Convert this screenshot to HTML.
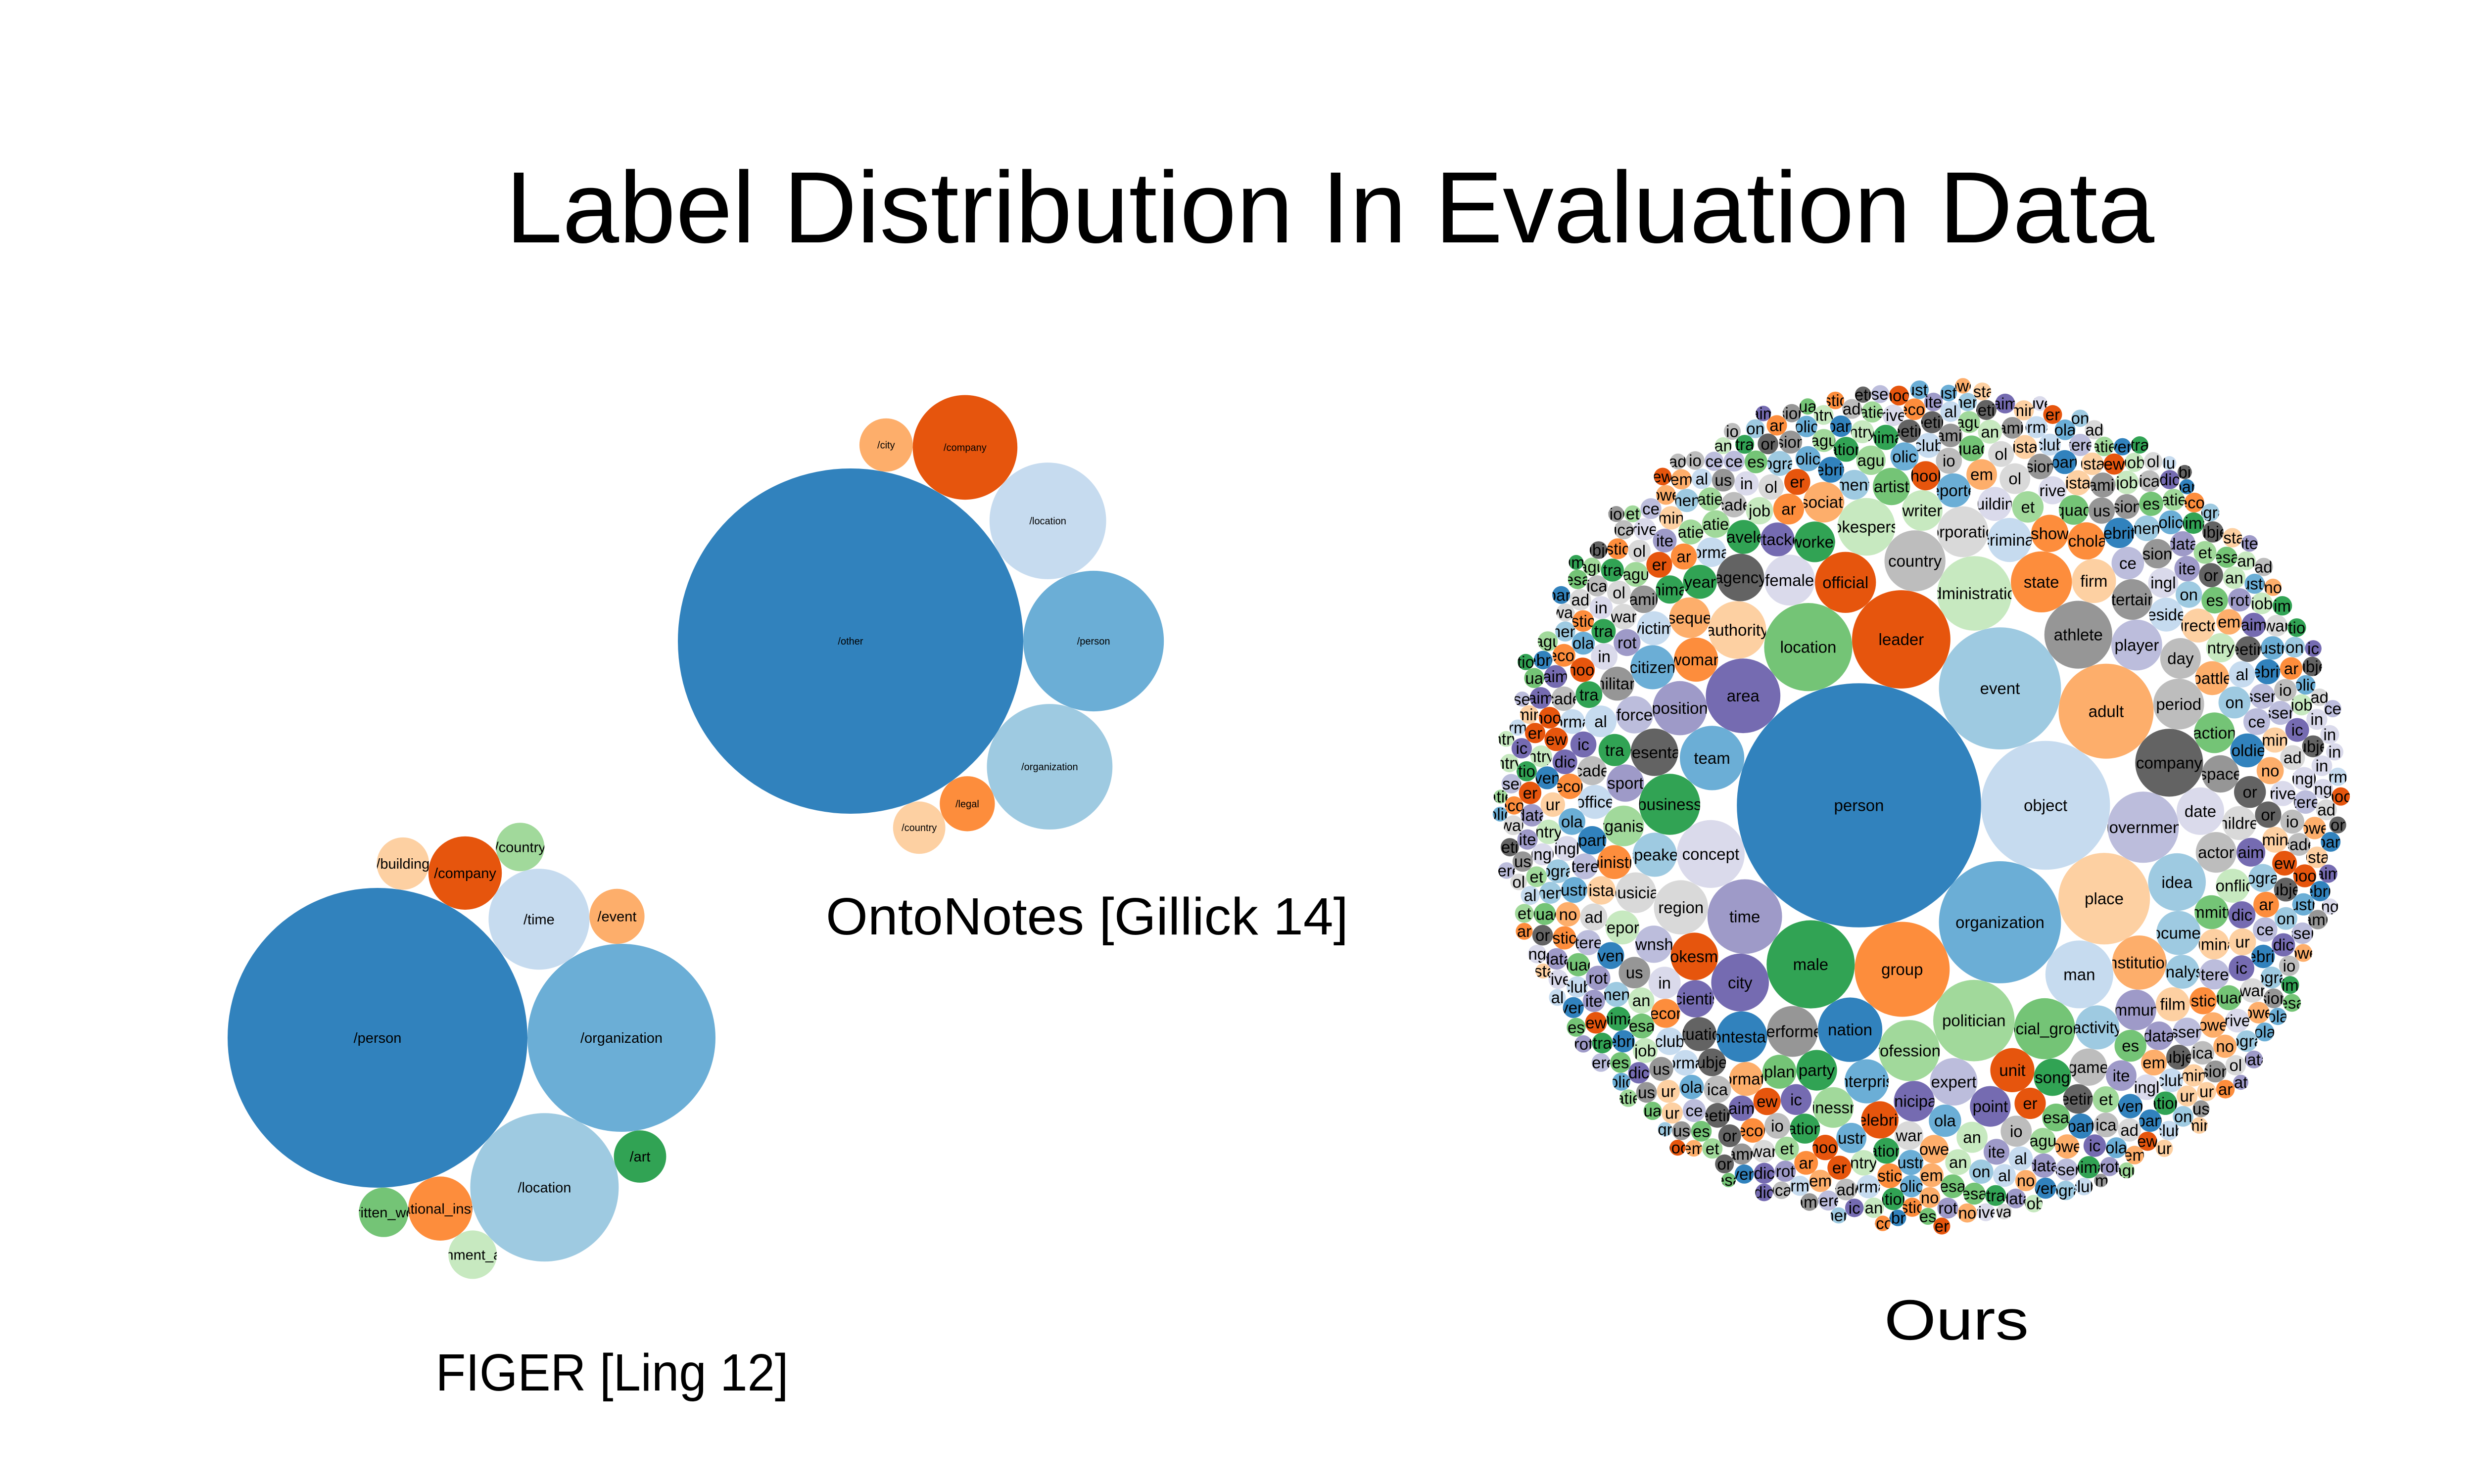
<!DOCTYPE html>
<html><head><meta charset="utf-8"><title>Label Distribution In Evaluation Data</title>
<style>
html,body{margin:0;padding:0;background:#fff;width:5334px;height:3000px;overflow:hidden;}
svg{display:block;overflow:hidden;}
text{font-family:"Liberation Sans",Arial,sans-serif;}
</style></head>
<body>
<svg id="chart" width="5334" height="3000" viewBox="0 0 5334 3000" xmlns="http://www.w3.org/2000/svg">
<rect width="5334" height="3000" fill="#fff"/>
<text x="2688" y="490" font-size="205" text-anchor="middle" textLength="3332" lengthAdjust="spacingAndGlyphs" fill="#000">Label Distribution In Evaluation Data</text>
<text x="2197" y="1889" font-size="106" text-anchor="middle" textLength="1056" lengthAdjust="spacingAndGlyphs" fill="#000">OntoNotes [Gillick 14]</text>
<text x="1237" y="2811" font-size="106" text-anchor="middle" textLength="713" lengthAdjust="spacingAndGlyphs" fill="#000">FIGER [Ling 12]</text>
<text x="3954" y="2708" font-size="115" text-anchor="middle" textLength="292" lengthAdjust="spacingAndGlyphs" fill="#000">Ours</text>
<defs id="clips"></defs>
<g id="figer"></g>
<g id="onto"></g>
<g id="ours"></g>
</svg>
<script>
// ---------- data ----------
const figerLabels = ["/person","/organization","/location","/time","/company","/educational_institution","/event","/building","/art","/written_work","/country","/government_agency"];
const figerValues = [918,361,225,104,55,42,31,28,28,25,24,24];

const ontoLabels = ["/other","/person","/organization","/location","/company","/legal","/city","/country"];
const ontoValues = [1218,202,161,139,112,31,29,28];

const oursLabels = ["person","object","organization","event","leader","group","adult","place","male","location",
"politician","administration","time","area","government","company","man","athlete","concept","team",
"nation","official","business","state","social_group","professional","country","city","authority","spokesperson",
"idea","position","region","institution","performer","player","female","period","contestant","corporation",
"agency","expert","date","representative","spokesman","woman","criminal","speaker","unit","enterprise",
"citizen","document","firm","activity","musician","actor","day","party","worker","community",
"entertainer","point","association","writer","action","consequence","businessman","municipality","organism","sport",
"artist","space","scientist","celebrity","show","force","song","township","scholar","game",
"attacker","plan","year","situation","committee","analyst","building","traveler","information","soldier",
"president","office","film","director","conflict","report","military","victim","battle","reporter",
"children","ministry"];
const oursMajorValues = [5184,1444,1296,1296,841,784,784,729,676,676,
576,484,484,484,441,400,400,400,400,361,
361,324,324,324,324,324,324,289,289,289,
289,256,256,256,225,225,225,225,225,225,
196,196,196,196,196,169,169,169,169,169,
169,169,169,169,144,144,144,144,144,144,
144,144,144,144,144,144,144,144,144,121,
121,121,121,121,121,121,121,121,121,121,
100,100,100,100,100,100,100,100,100,100,
100,100,100,100,100,100,100,100,100,100,
100,100];
const oursMidValues = [92,91,90,90,89,88,88,87,86,86,85,84,84,83,83,82,81,81,80,80,
79,79,78,78,77,77,76,76,75,75,74,74,73,73,72,72,71,71,70,70,
70,69,69,68,68,67,67,66,66,66,65,65,65,64,64,64,64,63,63,63,
62,62,62,61,61,61,60,60,60,60];
const oursSmallValues = [
59,59,59,59,59,58,58,58,58,58,58,58,58,57,57,57,57,57,57,57,
56,56,56,56,56,56,56,55,55,55,55,55,55,55,54,54,54,54,54,54,
53,53,53,53,53,53,52,52,52,52,52,52,51,51,51,51,51,51,50,50,
50,50,50,49,49,49,49,49,48,48,48,48,48,47,47,47,47,47,46,46,
46,46,45,45,45,45,44,44,44,44,43,43,43,43,42,42,42,42,41,41,
41,41,40,40,40,40,39,39,39,39,38,38,38,38,37,37,37,36,36,36,
58,58,57,57,57,56,56,56,55,55,55,55,54,54,54,54,53,53,53,53,
52,52,52,52,51,51,51,51,50,50,50,50,50,49,49,49,49,49,48,48,
48,48,48,47,47,47,47,47,46,46,46,46,46,46,45,45,45,45,45,45,
44,44,44,44,44,44,43,43,43,43,43,43,43,42,42,42,42,42,42,42,
41,41,41,41,41,41,41,40,40,40,40,40,40,40,40,39,39,39,39,39,
39,39,39,38,38,38,38,38,38,38,38,37,37,37,37,37,37,37,37,37,
36,36,36,36,36,36,36,36,36,35,35,35,35,35,35,35,35,35,35,34,
34,34,34,34,34,34,34,34,34,33,33,33,33,33,33,33,33,33,33,33,
32,32,32,32,32,32,32,32,32,32,32,31,31,31,31,31,31,31,31,31,
31,31,30,30,30,30,30,30,30,30,30,30,30,30,29,29,29,29,29,29,
29,29,29,29,29,28,28,28,28,28,28,28,28,28,28,28,27,27,27,27,
27,27,27,27,27,27,26,26,26,26,26,26,26,26,26,25,25,25,25,25,
25,25,25,25,24,24,24,24,24,24,24,24,23,23,23,23,23,23,22,22,
22,22,22,21,21,21,21,20,20,20,20,19,19,19,18,18,18,17,17,16];
const fragmentLabels = ["ebrit","rimina","nteres","ustr","ation","ingl","ment","quad","eetin","orma","agu","sion","hool","ntry","cade","ecor","aim","war","owe","data","part","ista","ssen","olic","nima","rive","ogra","esa","ubje","club","atie","amil","ew","job","ica","stic","dic","ad","no","rot","ven","ur","ce","ola","tra","in","on","es","or","al","et","us","er","an","io","ar","ic","ol","em","ite"];

// ---------- styles ----------
const C20 = ["#3182bd","#6baed6","#9ecae1","#c6dbef","#e6550d","#fd8d3c","#fdae6b","#fdd0a2","#31a354","#74c476","#a1d99b","#c7e9c0","#756bb1","#9e9ac8","#bcbddc","#dadaeb","#636363","#969696","#bdbdbd","#d9d9d9"];
const oursMajorColors = ["#3182bd","#c6dbef","#6baed6","#9ecae1","#e6550d","#fd8d3c","#fdae6b","#fdd0a2","#31a354","#74c476",
"#a1d99b","#c7e9c0","#9e9ac8","#756bb1","#bcbddc","#636363","#c6dbef","#969696","#dadaeb","#6baed6",
"#3182bd","#e6550d","#31a354","#fd8d3c","#74c476","#a1d99b","#bdbdbd","#756bb1","#fdd0a2","#c7e9c0",
"#9ecae1","#9e9ac8","#d9d9d9","#fdae6b","#969696","#bcbddc","#dadaeb","#bdbdbd","#3182bd","#d9d9d9",
"#636363","#bcbddc","#dadaeb","#636363","#e6550d","#fd8d3c","#c6dbef","#9ecae1","#e6550d","#6baed6",
"#6baed6","#9ecae1","#fdd0a2","#9ecae1","#d9d9d9","#bdbdbd","#bdbdbd","#31a354","#31a354","#9e9ac8",
"#969696","#756bb1","#fdae6b","#c7e9c0","#74c476","#fdae6b","#a1d99b","#756bb1","#a1d99b","#9e9ac8",
"#74c476","#969696","#756bb1","#e6550d","#fd8d3c","#bcbddc","#31a354","#bcbddc","#fd8d3c","#bdbdbd",
"#756bb1","#74c476","#31a354","#636363","#74c476","#9ecae1","#dadaeb","#31a354","#fdae6b","#3182bd",
"#c6dbef","#c6dbef","#fdd0a2","#fdd0a2","#c7e9c0","#c7e9c0","#969696","#c6dbef","#fdae6b","#6baed6",
"#d9d9d9","#fd8d3c"];

// ---------- circle packing (front-chain) ----------
function place(b, a, c) {
  var dx = b.x - a.x, x, a2, dy = b.y - a.y, y, b2, d2 = dx * dx + dy * dy;
  if (d2) {
    a2 = a.r + c.r; a2 *= a2;
    b2 = b.r + c.r; b2 *= b2;
    if (a2 > b2) {
      x = (d2 + b2 - a2) / (2 * d2);
      y = Math.sqrt(Math.max(0, b2 / d2 - x * x));
      c.x = b.x - x * dx - y * dy;
      c.y = b.y - x * dy + y * dx;
    } else {
      x = (d2 + a2 - b2) / (2 * d2);
      y = Math.sqrt(Math.max(0, a2 / d2 - x * x));
      c.x = a.x + x * dx - y * dy;
      c.y = a.y + x * dy + y * dx;
    }
  } else { c.x = a.x + c.r; c.y = a.y; }
}
function intersects(a, b) {
  var dr = a.r + b.r - 1e-6, dx = b.x - a.x, dy = b.y - a.y;
  return dr > 0 && dr * dr > dx * dx + dy * dy;
}
function score(node) {
  var a = node._, b = node.next._, ab = a.r + b.r,
      dx = (a.x * b.r + b.x * a.r) / ab, dy = (a.y * b.r + b.y * a.r) / ab;
  return dx * dx + dy * dy;
}
function PNode(c) { this._ = c; this.next = null; this.previous = null; }
function packSiblings(circles) {
  var n = circles.length, a, b, c, aa, ca, i, j, k, sj, sk;
  if (!n) return;
  a = circles[0]; a.x = 0; a.y = 0;
  if (n < 2) return;
  b = circles[1]; a.x = -b.r; b.x = a.r; b.y = 0;
  if (n < 3) return;
  place(b, a, c = circles[2]);
  a = new PNode(a); b = new PNode(b); c = new PNode(c);
  a.next = c.previous = b; b.next = a.previous = c; c.next = b.previous = a;
  pack: for (i = 3; i < n; ++i) {
    place(a._, b._, c = circles[i]); c = new PNode(c);
    j = b.next; k = a.previous; sj = b._.r; sk = a._.r;
    do {
      if (sj <= sk) {
        if (intersects(j._, c._)) { b = j; a.next = b; b.previous = a; --i; continue pack; }
        sj += j._.r; j = j.next;
      } else {
        if (intersects(k._, c._)) { a = k; a.next = b; b.previous = a; --i; continue pack; }
        sk += k._.r; k = k.previous;
      }
    } while (j !== k.next);
    c.previous = a; c.next = b; a.next = b.previous = b = c;
    aa = score(a);
    while ((c = c.next) !== b) { if ((ca = score(c)) < aa) { a = c; aa = ca; } }
    b = a.next;
  }
}

// ---------- drawing ----------
const NS = "http://www.w3.org/2000/svg";
const clips = document.getElementById("clips");
let clipId = 0;
function drawBubbles(groupId, labels, values, colorOf, k, anchorX, anchorY, fontSize) {
  const g = document.getElementById(groupId);
  const nodes = values.map((v, i) => ({ r: k * Math.sqrt(v), i: i, v: v }));
  const sorted = nodes.slice().sort((p, q) => q.v - p.v);
  packSiblings(sorted);
  const ox = anchorX - sorted[0].x, oy = anchorY - sorted[0].y;
  nodes.forEach(nd => {
    const cx = nd.x + ox, cy = nd.y + oy;
    const node = document.createElementNS(NS, "g");
    
    
    const circ = document.createElementNS(NS, "circle");
    circ.setAttribute("cx", cx.toFixed(1));
    circ.setAttribute("cy", cy.toFixed(1));
    circ.setAttribute("r", nd.r.toFixed(1));
    circ.setAttribute("fill", colorOf(nd.i));
    
    
    node.appendChild(circ);
    const id = "c" + (clipId++);
    const cp = document.createElementNS(NS, "clipPath");
    cp.setAttribute("id", id);
    const cc = document.createElementNS(NS, "circle");
    cc.setAttribute("cx", cx.toFixed(1));
    cc.setAttribute("cy", cy.toFixed(1));
    cc.setAttribute("r", nd.r.toFixed(1));
    cp.appendChild(cc);
    clips.appendChild(cp);
    const t = document.createElementNS(NS, "text");
    t.setAttribute("x", cx.toFixed(1));
    t.setAttribute("y", (cy + fontSize * 0.35).toFixed(1));
    t.setAttribute("font-size", fontSize);
    t.setAttribute("text-anchor", "middle");
    t.setAttribute("fill", "#000");
    t.setAttribute("clip-path", "url(#" + id + ")");
    
    
    t.textContent = labels[nd.i];
    node.appendChild(t);
    g.appendChild(node);
  });
}

drawBubbles("figer", figerLabels, figerValues, i => C20[i % 20], 10, 763, 2098, 29);
drawBubbles("onto", ontoLabels, ontoValues, i => C20[i % 20], 10, 1719, 1296, 20);

const oursValues = oursMajorValues.concat(oursMidValues, oursSmallValues);
const oursAllLabels = oursValues.map((v, i) => i < oursLabels.length ? oursLabels[i] : fragmentLabels[i % fragmentLabels.length]);
drawBubbles("ours", oursAllLabels, oursValues,
  i => i < oursMajorColors.length ? oursMajorColors[i] : C20[(i * 7) % 20],
  3.428, 3757, 1628, 33);
</script>
</body></html>
